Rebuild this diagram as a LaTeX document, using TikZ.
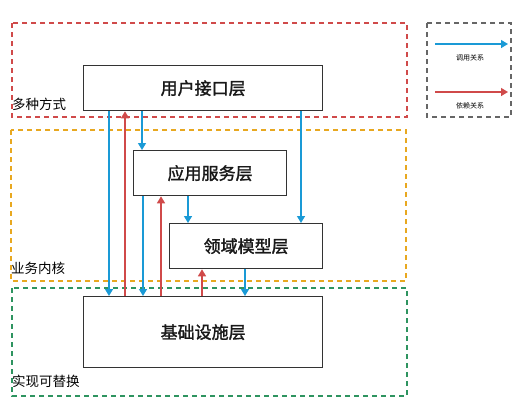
\documentclass[tikz,border=0pt]{standalone}
\usepackage{fontspec}
\setmainfont{Noto Sans CJK SC}
\newfontfamily\boldcjk[FakeBold=1.6]{Noto Sans CJK SC}
\usetikzlibrary{arrows.meta}
\definecolor{cred}{HTML}{D04A4A}
\definecolor{corange}{HTML}{E8A820}
\definecolor{cgreen}{HTML}{2E9460}
\definecolor{cblue}{HTML}{1A9AD6}
\definecolor{cgray}{HTML}{666666}
\definecolor{cbox}{HTML}{333333}
\tikzset{
  layer/.style={draw=cbox, line width=1.3pt, fill=white, anchor=north west, inner sep=0pt},
  ltext/.style={font=\boldcjk\fontsize{17}{20}\selectfont, text=black!90},
  zone/.style={dashed, dash pattern=on 5pt off 4pt, line width=1.5pt},
  zlabel/.style={anchor=west, inner sep=0pt, font=\fontsize{13.5}{16}\selectfont},
  call/.style={draw=cblue, line width=1.4pt, -{Triangle[length=7pt,width=8pt]}},
  dep/.style={draw=cred, line width=1.4pt, -{Triangle[length=7pt,width=8pt]}},
  legtext/.style={inner sep=0pt, font=\fontsize{7}{8}\selectfont}
}
\begin{document}
\begin{tikzpicture}[x=1pt,y=-1pt]
\useasboundingbox (0,0) rectangle (527,418);
% zones
\draw[zone, cred] (12,23) rectangle (407,117);
\draw[zone, corange] (11,130) rectangle (406,281);
\draw[zone, cgreen] (12,288) rectangle (407,396);
\node[zlabel] (l1) at (12,104) {多种方式};
\node[zlabel] (l2) at (11,268) {业务内核};
\node[zlabel] (l3) at (12,381) {实现可替换};
% legend
\draw[zone, cgray, line width=1.2pt] (427,23) rectangle (511,117);
\coordinate (lb1) at (435,44);
\coordinate (lb2) at (508,44);
\coordinate (lr1) at (435,92);
\coordinate (lr2) at (508,92);
\draw[call] (lb1) -- (lb2);
\draw[dep] (lr1) -- (lr2);
\node[legtext] (t1) at (470,58) {调用关系};
\node[legtext] (t2) at (470,106) {依赖关系};
% layers
\node[layer, minimum width=239pt, minimum height=45pt] (u) at (83,65) {};
\node[ltext] (ut) at (u.center) {用户接口层};
\node[layer, minimum width=153pt, minimum height=45pt] (a) at (133,150) {};
\node[ltext] (at) at (a.center) {应用服务层};
\node[layer, minimum width=153pt, minimum height=45pt] (d) at (169,223) {};
\node[ltext] (dt) at (d.center) {领域模型层};
\node[layer, minimum width=239pt, minimum height=71pt] (i) at (83,296) {};
\node[ltext] (it) at (i.center) {基础设施层};
% arrows
\draw[call] ([xshift=26pt]u.south west) -- ([xshift=26pt]i.north west);
\draw[dep] ([xshift=42pt]i.north west) -- ([xshift=42pt]u.south west);
\draw[call] ([xshift=59pt]u.south west) -- ([xshift=9pt]a.north west);
\draw[call] ([xshift=218pt]u.south west) -- ([xshift=132pt]d.north west);
\draw[call] ([xshift=10pt]a.south west) -- ([xshift=60pt]i.north west);
\draw[dep] ([xshift=78pt]i.north west) -- ([xshift=28pt]a.south west);
\draw[call] ([xshift=55pt]a.south west) -- ([xshift=19pt]d.north west);
\draw[dep] ([xshift=119pt]i.north west) -- ([xshift=33pt]d.south west);
\draw[call] ([xshift=76pt]d.south west) -- ([xshift=162pt]i.north west);
\end{tikzpicture}
\end{document}
